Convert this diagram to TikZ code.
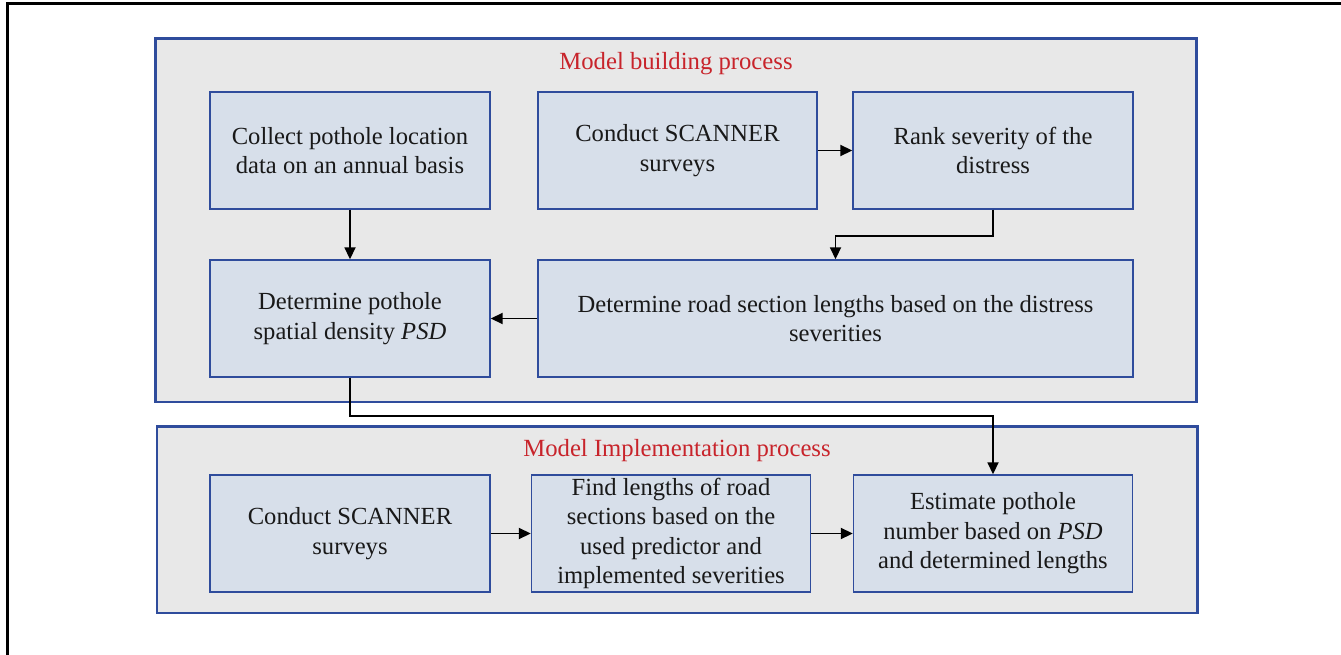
\documentclass[tikz,border=0pt]{standalone}
\usepackage{fontspec}
\setmainfont{Liberation Serif}
\usetikzlibrary{arrows.meta}
\definecolor{contfill}{HTML}{E8E8E8}
\definecolor{boxfill}{HTML}{D7DFEA}
\definecolor{edgeblue}{HTML}{2F4C9C}
\definecolor{titlered}{HTML}{C8242B}
\tikzset{
  container/.style={draw=edgeblue, line width=2.6pt, fill=contfill},
  stepbox/.style={draw=edgeblue, line width=1.4pt, fill=boxfill, align=center,
    font=\fontsize{24.6}{29.6}\selectfont, inner sep=0pt, text=black!90},
  titletext/.style={text=titlered, font=\fontsize{24.7}{28}\selectfont, inner sep=0pt},
  conn/.style={draw=black, line width=1.8pt, -{Triangle[length=12pt,width=11pt]}}
}
\begin{document}
\begin{tikzpicture}[x=1pt,y=-1pt]
\useasboundingbox (0,0) rectangle (1341,655);
\fill[white] (0,0) rectangle (1341,655);
\draw[line width=3pt] (7,660) -- (7,4) -- (1345,4);
\draw[container] (155.5,38.5) rectangle (1196.5,402);
\draw[container] (157,426.5) rectangle (1197.5,613);
\node[titletext] (t1) at (676,64) {Model building process};
\node[titletext] (t2) at (677,451) {Model Implementation process};
\node[stepbox, minimum width=280pt, minimum height=117pt] (A) at (350,150.5) {Collect pothole location\\data on an annual basis};
\node[stepbox, minimum width=279pt, minimum height=117pt] (B) at (677.5,150.5) {Conduct SCANNER\\surveys};
\node[stepbox, minimum width=280pt, minimum height=117pt] (C) at (993,150.5) {Rank severity of the\\distress};
\node[stepbox, minimum width=280pt, minimum height=117pt] (D) at (350,318.5) {Determine pothole\\spatial density \textit{PSD}};
\node[stepbox, minimum width=595pt, minimum height=117pt] (E) at (835.5,318.5) {Determine road section lengths based on the distress\\severities};
\node[stepbox, minimum width=280pt, minimum height=117pt] (F) at (350,533.5) {Conduct SCANNER\\surveys};
\node[stepbox, minimum width=279pt, minimum height=117pt] (G) at (671,533.5) {Find lengths of road\\sections based on the\\used predictor and\\implemented severities};
\node[stepbox, minimum width=279pt, minimum height=117pt] (H) at (993,533.5) {Estimate pothole\\number based on \textit{PSD}\\and determined lengths};
\draw[conn] (B.east) -- (C.west);
\draw[conn] (A.south) -- (D.north);
\draw[conn] (C.south) -- ++(0,26) -| (E.north);
\draw[conn] (E.west) -- (D.east);
\draw[conn] (D.south) -- ++(0,38) -| (H.north);
\draw[conn] (F.east) -- (G.west);
\draw[conn] (G.east) -- (H.west);
\end{tikzpicture}
\end{document}
